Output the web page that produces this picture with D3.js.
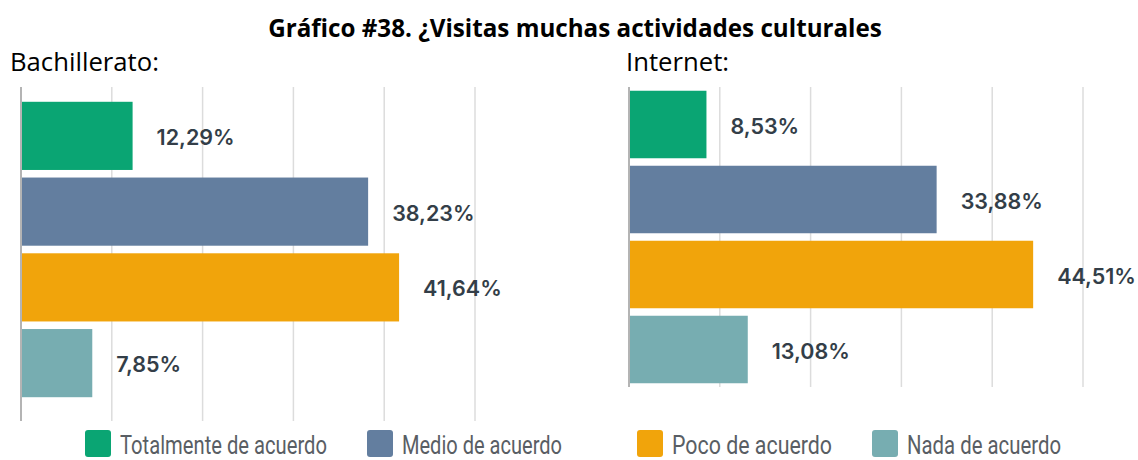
<!DOCTYPE html>
<html>
<head>
<meta charset="utf-8">
<script src="https://cdn.jsdelivr.net/npm/d3@7"></script>
<style>
  html, body { margin: 0; padding: 0; background: #ffffff; }
  svg { display: block; }
</style>
</head>
<body>
<script>
// Survey answers for "¿Visitas muchas actividades culturales?"
const categories = ["Totalmente de acuerdo", "Medio de acuerdo", "Poco de acuerdo", "Nada de acuerdo"];
const bachilleratoValues = [12.29, 38.23, 41.64, 7.85];
const internetValues = [8.53, 33.88, 44.51, 13.08];
const gridTicks = [0, 10, 20, 30, 40, 50];
const colors = ["#0aa573", "#637e9f", "#f1a40b", "#77adb1"];

const W = 1138, H = 460;
const svg = d3.select("body").append("svg").attr("width", W).attr("height", H);

const fmt = v => d3.format(".2f")(v).replace(".", ",") + "%";

// Scale a text element's font size so it spans the given width
function fitWidth(sel, target) {
  const base = parseFloat(sel.attr("font-size"));
  const w = sel.node().getComputedTextLength();
  sel.attr("font-size", base * target / w);
}

// Title
const title = svg.append("text")
  .attr("x", W / 2 + 6).attr("y", 37)
  .attr("text-anchor", "middle")
  .attr("font-family", "'Open Sans', 'Noto Sans', sans-serif")
  .attr("font-weight", 700)
  .attr("font-size", 22)
  .attr("fill", "#000")
  .text("Gráfico #38. ¿Visitas muchas actividades culturales");
fitWidth(title, 614);

// Panel headings
const heads = [{ t: "Bachillerato:", x: 10 }, { t: "Internet:", x: 626 }];
const headSel = svg.selectAll("text.head").data(heads).join("text")
  .attr("class", "head")
  .attr("x", d => d.x).attr("y", 71)
  .attr("font-family", "'Open Sans', 'Noto Sans', sans-serif")
  .attr("font-size", 22)
  .attr("fill", "#000")
  .text(d => d.t);
{
  const n = headSel.filter((d, i) => i === 0);
  const base = 22, w = n.node().getComputedTextLength();
  headSel.attr("font-size", base * 149 / w);
}

// Panels
const panels = [
  { values: bachilleratoValues, x0: 21, x1: 475, yTop: 87, yBottom: 421, band: [98, 401] },
  { values: internetValues, x0: 629, x1: 1083, yTop: 87, yBottom: 387, band: [87, 387] }
];

panels.forEach(p => {
  const g = svg.append("g");
  const x = d3.scaleLinear().domain([0, 50]).range([p.x0, p.x1]);
  const y = d3.scaleBand().domain(categories).range(p.band)
    .paddingInner(0.1).paddingOuter(0.05);

  // vertical gridlines
  g.selectAll("line.grid").data(gridTicks.slice(1)).join("line")
    .attr("x1", d => x(d)).attr("x2", d => x(d))
    .attr("y1", p.yTop).attr("y2", p.yBottom)
    .attr("stroke", "#dcdcdc").attr("stroke-width", 1.5);

  // bars
  g.selectAll("rect.bar").data(p.values).join("rect")
    .attr("x", x(0))
    .attr("y", (d, i) => y(categories[i]))
    .attr("width", d => x(d) - x(0))
    .attr("height", y.bandwidth())
    .attr("fill", (d, i) => colors[i]);

  // baseline axis
  g.append("line")
    .attr("x1", x(0)).attr("x2", x(0))
    .attr("y1", p.yTop).attr("y2", p.yBottom)
    .attr("stroke", "#b4b4b4").attr("stroke-width", 2);

  // value labels
  g.selectAll("text.val").data(p.values).join("text")
    .attr("x", d => x(d) + 24)
    .attr("y", (d, i) => y(categories[i]) + y.bandwidth() / 2 + 9)
    .attr("font-family", "Inter, 'Noto Sans', sans-serif")
    .attr("font-weight", 600)
    .attr("font-size", 21.5)
    .attr("fill", "#333e48")
    .text(d => fmt(d));
});

// Legend
const legend = [
  { x: 85, w: 207 }, { x: 367, w: 160 }, { x: 637, w: 160 }, { x: 872, w: 154 }
];
const lg = svg.selectAll("g.leg").data(categories).join("g")
  .attr("class", "leg")
  .attr("transform", (d, i) => `translate(${legend[i].x},430)`);
lg.append("rect")
  .attr("width", 26).attr("height", 27).attr("rx", 3)
  .attr("fill", (d, i) => colors[i]);
lg.append("text")
  .attr("x", 35).attr("y", 24)
  .attr("font-family", "Roboto, 'Noto Sans', sans-serif")
  .attr("font-size", 25)
  .attr("fill", "#595e64")
  .attr("textLength", (d, i) => legend[i].w)
  .attr("lengthAdjust", "spacingAndGlyphs")
  .text(d => d);
</script>
</body>
</html>
